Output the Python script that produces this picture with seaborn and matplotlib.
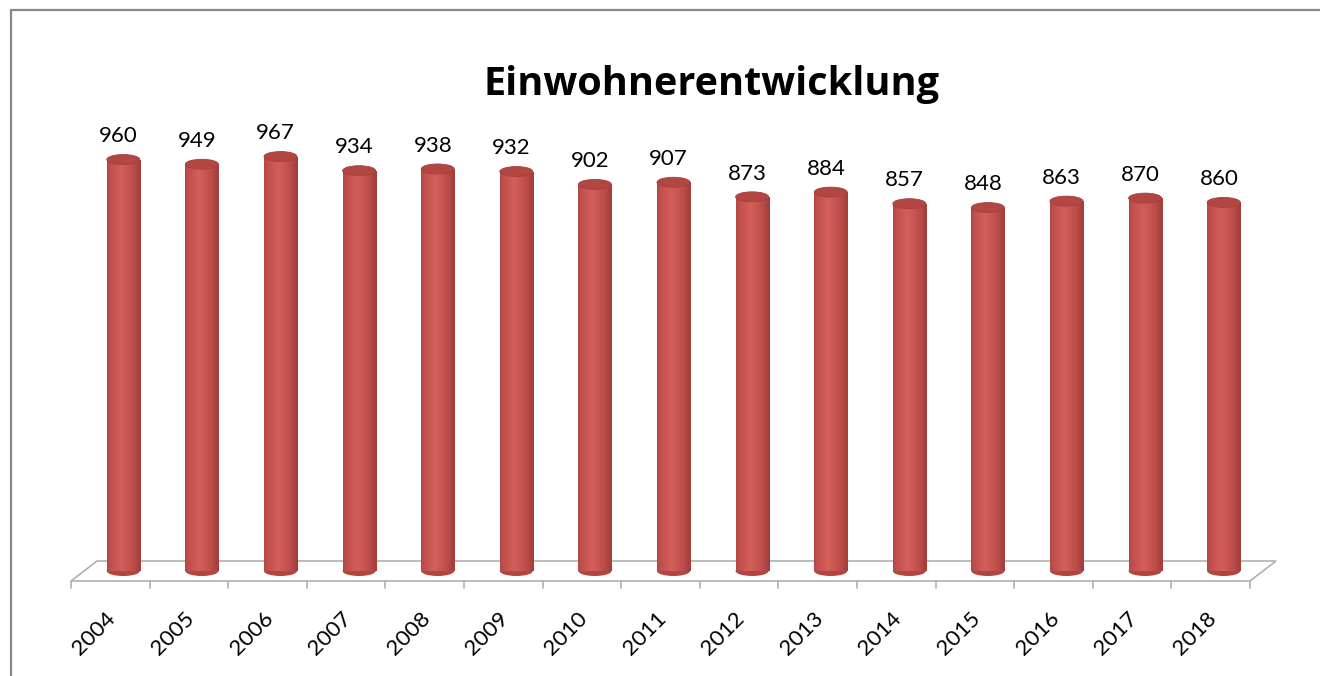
import matplotlib
matplotlib.use("Agg")
import matplotlib.pyplot as plt
import numpy as np
import pandas as pd
import seaborn as sns
from matplotlib.lines import Line2D
from matplotlib.patches import Ellipse, Polygon

years = ["2004", "2005", "2006", "2007", "2008", "2009", "2010", "2011",
         "2012", "2013", "2014", "2015", "2016", "2017", "2018"]
einwohner = [960, 949, 967, 934, 938, 932, 902, 907, 873, 884, 857, 848, 863, 870, 860]
title = "Einwohnerentwicklung"

sns.set_theme(style="white")
plt.rcParams["font.family"] = ["Lato", "DejaVu Sans"]

W, H = 1320, 676
fig = plt.figure(figsize=(W / 100, H / 100), dpi=100)

# plot area in pixels: bars sit at depth middle, floor front is shifted down-left
px_per_unit = 0.4286
ymin, ymax = -40, 1000
base_px = 571
ax_left, ax_width = 84, 1179
ax_h = (ymax - ymin) * px_per_unit
ax_bottom = H - (base_px - ymin * px_per_unit)
ax = fig.add_axes([ax_left / W, ax_bottom / H, ax_width / W, ax_h / H])

df = pd.DataFrame({"year": years, "einwohner": einwohner})
bar_w = 0.42
sns.barplot(data=df, x="year", y="einwohner", color="#c0504d", width=bar_w,
            saturation=1, linewidth=0, ax=ax, zorder=3)
ax.set_xlim(-0.5, len(years) - 0.5)
ax.set_ylim(ymin, ymax)
ax.set_xlabel("")
ax.set_ylabel("")
ax.set_xticks([])
ax.set_yticks([])
for s in ax.spines.values():
    s.set_visible(False)

# floor
shift = 13 / 78.6
depth = 10 / px_per_unit
n = len(years)
floor = Polygon([(-0.5 - shift, -depth), (n - 0.5 - shift, -depth),
                 (n - 0.5 + shift, depth), (-0.5 + shift, depth)],
                closed=True, facecolor="white", edgecolor="#b0b0b0", lw=1.2,
                zorder=1, clip_on=False)
ax.add_patch(floor)
tick_len = 7 / px_per_unit
for k in range(n + 1):
    x = k - 0.5 - shift
    ax.plot([x, x], [-depth, -depth - tick_len], color="#b0b0b0", lw=1.2,
            clip_on=False, zorder=1)
for i, y in enumerate(years):
    ax.text(i - shift - 0.06, -depth - 27 / px_per_unit, y, rotation=45,
            ha="right", va="top", rotation_mode="anchor", fontsize=16,
            color="black")

# cylinder shading
shade = np.linspace(0, 1, 64)
shade = 1 - np.abs(shade - 0.42) * 1.6
cmap = matplotlib.colors.LinearSegmentedColormap.from_list(
    "cyl", ["#9c3a37", "#c0504d", "#d45f5b"])
ell_h = 10 / px_per_unit
for p, v in zip(ax.patches[:n], einwohner):
    x0 = p.get_x()
    w = p.get_width()
    im = ax.imshow(shade[np.newaxis, :], cmap=cmap, aspect="auto",
                   extent=[x0, x0 + w, 0, v], zorder=4, vmin=0, vmax=1)
    im.set_clip_path(p)
    bottom = Ellipse((x0 + w / 2, 0), w, ell_h, facecolor="#b14542",
                     edgecolor="none", zorder=2)
    ax.add_patch(bottom)
    top = Ellipse((x0 + w / 2, v), w, ell_h, facecolor="#b24643",
                  edgecolor="#a83f3c", lw=0.6, zorder=5)
    ax.add_patch(top)
    ax.annotate(f"{v}", (x0 + w / 2, v), xytext=(-3.5, 9.5), textcoords="offset points",
                ha="center", va="bottom", fontsize=16, color="black")

fig.text(711 / W, 1 - 84 / H, title, ha="center", va="center",
         fontsize=28.5, fontweight="bold", color="black",
         family=["Open Sans", "DejaVu Sans"])

fig.add_artist(Line2D([11 / W, 1], [1 - 10 / H, 1 - 10 / H], color="#888888",
                      lw=1.6, transform=fig.transFigure))
fig.add_artist(Line2D([11 / W, 11 / W], [0, 1 - 10 / H], color="#888888",
                      lw=1.6, transform=fig.transFigure))

fig.savefig("out.png", dpi=100, facecolor="white")
